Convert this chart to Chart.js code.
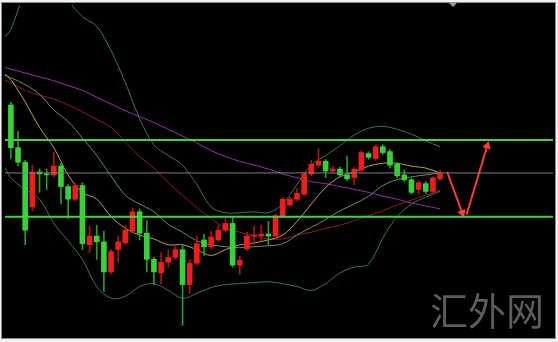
<!DOCTYPE html>
<html>
<head>
<meta charset="utf-8">
<script src="https://cdn.jsdelivr.net/npm/chart.js@4/dist/chart.umd.min.js"></script>
<style>
  html, body { margin: 0; padding: 0; background: #fff; }
  #wrap { width: 558px; height: 342px; }
</style>
</head>
<body>
<div id="wrap"><canvas id="chart" width="558" height="342"></canvas></div>
<script>
// Candles (price level, bottom of the frame = 0)
const opens  = [239,195,180,134,170,168,167,176,155,142,156,95,104,98,67,90,97,109,129,107,80,66,77,82,90,54,76,100,93,100,110,117,74,91,104,104,106,104,125,136,142,147,168,177,181,171,173,167,164,172,189,184,196,191,178,167,162,152,158,150,163];
const closes = [195,180,110,170,168,167,176,155,142,156,96,104,98,67,88,98,110,129,107,80,67,77,82,90,54,76,96,93,103,110,117,74,79,104,105,106,104,125,142,142,148,168,178,181,171,173,167,163,173,190,185,196,190,177,166,162,149,159,150,164,169];
const highs  = [242,212,182,177,173,173,190,179,157,158,159,114,115,109,90,104,115,133,132,120,82,87,90,94,94,80,104,106,109,115,122,124,83,108,114,115,119,127,144,144,153,170,182,194,183,176,175,186,175,192,191,198,198,193,180,172,164,161,160,165,172];
const lows   = [184,176,95,130,149,152,165,137,122,140,90,87,80,47,65,77,95,107,100,67,54,55,72,80,12,45,74,84,91,98,108,72,65,89,95,99,95,102,123,134,140,145,166,175,164,169,165,161,157,170,183,182,188,174,164,160,147,147,148,148,161];

// Indicator lines, sampled at these bar numbers
const lineBars = [-1,0,2,4,6,8,10,12,14,16,18,20,22,24,26,28,30,32,34,36,38,40,42,44,46,48,50,52,54,56,58,60];
const maFast   = [272,265,242,216,195,167,149,142,124,112,105,101,95,95,90,84,90,95,97,100,105,119,137,154,165,170,176,179,179,176,174,169];
const bbMiddle = [270,267,260,250,234,222,205,187,166,146,137,129,116,108,99,95,93,92,93,94,96,105,113,121,130,137,145,156,162,165,167,169];
const bbUpper  = [308,317,357,382,372,347,330,320,295,262,225,198,187,177,157,134,128,128,129,128,137,157,177,187,197,208,215,217,214,209,202,196];
const bbLower  = [177,164,152,142,117,99,80,52,40,42,52,55,48,40,45,51,54,55,56,57,55,52,48,55,66,72,75,102,124,137,144,150];
const maSlow   = [265,262,254,249,245,239,232,224,216,201,186,174,159,146,133,122,112,108,104,101,101,105,108,112,115,120,125,130,136,141,146,151];
const maLong   = [278,276,272,268,264,259,254,247,240,233,227,221,214,207,200,192,186,181,177,173,168,164,160,158,155,152,149,145,142,138,135,132];

// Drawn levels and the forecast arrows
const supportResistance = [203, 124];
const midLevel = 169;
const arrowDown = [[61.0, 170], [63.1, 128]];
const arrowUp   = [[63.7, 126], [66.6, 197]];

const X_MIN = -0.824, X_MAX = 75.79;

const UP = '#f21c1c', DOWN = '#35d335';
const UP_WICK = '#a51818', DOWN_WICK = '#2b9a2b';

const up = opens.map((o, i) => closes[i] >= o);

const toPoints = vals => vals.map((v, i) => ({ x: lineBars[i], y: v }));

const indicator = (label, vals, color) => ({
    type: 'line',
    label: label,
    data: toPoints(vals),
    borderColor: color,
    borderWidth: 1,
    pointRadius: 0,
    tension: 0.35,
    order: 5
});

const level = (v, color, width) => ({
    type: 'line',
    data: [{ x: X_MIN, y: v }, { x: X_MAX, y: v }],
    borderColor: color,
    borderWidth: width,
    pointRadius: 0,
    order: 0
});

const arrow = (pts, rotation) => ({
    type: 'line',
    data: pts.map(p => ({ x: p[0], y: p[1] })),
    borderColor: '#ff3b3b',
    backgroundColor: '#ff3b3b',
    borderWidth: 2,
    pointStyle: 'triangle',
    pointRadius: [0, 5],
    pointRotation: rotation,
    pointBorderWidth: 0,
    order: 0
});

const frame = {
    id: 'frame',
    beforeDraw(chart) {
        const ctx = chart.ctx;
        ctx.save();
        ctx.fillStyle = '#f2f2f2';
        ctx.fillRect(0, 0, 558, 342);
        ctx.fillStyle = '#000';
        ctx.fillRect(1, 2, 555, 337);
        ctx.strokeStyle = '#8c8c8c';
        ctx.lineWidth = 1;
        ctx.strokeRect(1.5, 2.5, 554, 336);
        ctx.restore();
    },
    afterDraw(chart) {
        const ctx = chart.ctx;
        ctx.save();
        // shift marker
        ctx.fillStyle = '#9a9a9a';
        ctx.beginPath();
        ctx.moveTo(449, 3);
        ctx.lineTo(457, 3);
        ctx.lineTo(453, 7);
        ctx.closePath();
        ctx.fill();
        // watermark
        ctx.fillStyle = '#5c5c5c';
        ctx.font = '38px "Noto Sans CJK SC"';
        ctx.textBaseline = 'middle';
        ctx.fillText('汇外网', 430, 311);
        ctx.restore();
    }
};

new Chart(document.getElementById('chart'), {
    type: 'bar',
    data: {
        datasets: [
            {
                label: 'wick',
                data: lows.map((l, i) => ({ x: i, y: [l, highs[i]] })),
                backgroundColor: up.map(u => u ? UP_WICK : DOWN_WICK),
                barThickness: 1,
                grouped: false,
                order: 3
            },
            {
                label: 'body',
                data: opens.map((o, i) => ({ x: i, y: [o, closes[i]] })),
                backgroundColor: up.map(u => u ? UP : DOWN),
                barThickness: 5,
                grouped: false,
                order: 2
            },
            indicator('MA fast', maFast, '#b9a53c'),
            indicator('BB middle', bbMiddle, '#6d8a70'),
            indicator('BB upper', bbUpper, '#3f7458'),
            indicator('BB lower', bbLower, '#3f7458'),
            indicator('MA slow', maSlow, '#8e1f1f'),
            indicator('MA long', maLong, '#9a2fa8'),
            level(midLevel, '#7d7d7d', 1),
            level(supportResistance[0], '#3fd43f', 2),
            level(supportResistance[1], '#3fd43f', 2),
            arrow(arrowDown, 160),
            arrow(arrowUp, 17)
        ]
    },
    options: {
        responsive: false,
        devicePixelRatio: 1,
        animation: false,
        layout: { padding: 0 },
        plugins: {
            legend: { display: false },
            tooltip: { enabled: false }
        },
        scales: {
            x: { type: 'linear', min: X_MIN, max: X_MAX, offset: false, display: false },
            y: { min: 0, max: 342, display: false }
        }
    },
    plugins: [frame]
});
</script>
</body>
</html>
